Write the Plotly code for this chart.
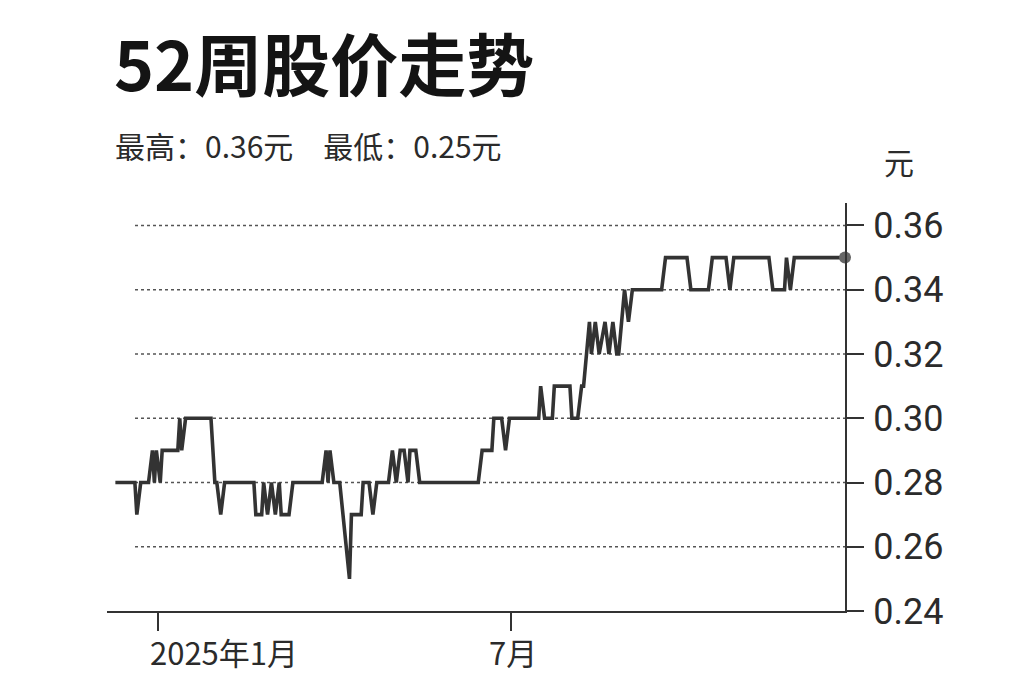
import plotly.graph_objects as go

# ---- data ----
dates = [
    "2024-12-10", "2024-12-20", "2024-12-21", "2024-12-23", "2024-12-27",
    "2024-12-29", "2024-12-30", "2024-12-31", "2025-01-02", "2025-01-03",
    "2025-01-11", "2025-01-12", "2025-01-13", "2025-01-15", "2025-01-28",
    "2025-01-30", "2025-01-31", "2025-02-02", "2025-02-04", "2025-02-19",
    "2025-02-20", "2025-02-23", "2025-02-24", "2025-02-26", "2025-02-28",
    "2025-03-02", "2025-03-04", "2025-03-05", "2025-03-09", "2025-03-11",
    "2025-03-26", "2025-03-28", "2025-03-29", "2025-03-30", "2025-04-01",
    "2025-04-04", "2025-04-09", "2025-04-10", "2025-04-15", "2025-04-16",
    "2025-04-19", "2025-04-21", "2025-04-23", "2025-04-29", "2025-05-01",
    "2025-05-03", "2025-05-05", "2025-05-07", "2025-05-09", "2025-05-10",
    "2025-05-13", "2025-05-15", "2025-06-14", "2025-06-16", "2025-06-21",
    "2025-06-22", "2025-06-26", "2025-06-28", "2025-06-30", "2025-07-15",
    "2025-07-16", "2025-07-18", "2025-07-22", "2025-07-23", "2025-07-31",
    "2025-08-01", "2025-08-04", "2025-08-06", "2025-08-07", "2025-08-10",
    "2025-08-11", "2025-08-13", "2025-08-15", "2025-08-18", "2025-08-20",
    "2025-08-22", "2025-08-24", "2025-08-25", "2025-08-28", "2025-08-30",
    "2025-09-01", "2025-09-16", "2025-09-18", "2025-09-29", "2025-10-01",
    "2025-10-10", "2025-10-12", "2025-10-19", "2025-10-21", "2025-10-23",
    "2025-11-10", "2025-11-12", "2025-11-18", "2025-11-19", "2025-11-21",
    "2025-11-23", "2025-12-19",
]
prices = [
    0.28, 0.28, 0.27, 0.28, 0.28,
    0.29, 0.28, 0.29, 0.28, 0.29,
    0.29, 0.30, 0.29, 0.30, 0.30,
    0.28, 0.28, 0.27, 0.28, 0.28,
    0.27, 0.27, 0.28, 0.27, 0.28,
    0.27, 0.28, 0.27, 0.27, 0.28,
    0.28, 0.29, 0.28, 0.29, 0.28,
    0.28, 0.25, 0.27, 0.27, 0.28,
    0.28, 0.27, 0.28, 0.28, 0.29,
    0.28, 0.29, 0.29, 0.28, 0.29,
    0.29, 0.28, 0.28, 0.29, 0.29,
    0.30, 0.30, 0.29, 0.30, 0.30,
    0.31, 0.30, 0.30, 0.31, 0.31,
    0.30, 0.30, 0.31, 0.31, 0.33,
    0.32, 0.33, 0.32, 0.33, 0.32,
    0.33, 0.32, 0.32, 0.34, 0.33,
    0.34, 0.34, 0.35, 0.35, 0.34,
    0.34, 0.35, 0.35, 0.34, 0.35,
    0.35, 0.34, 0.34, 0.35, 0.34,
    0.35, 0.35,
]
y_ticks = [0.24, 0.26, 0.28, 0.30, 0.32, 0.34, 0.36]
y_tick_labels = ["0.24", "0.26", "0.28", "0.30", "0.32", "0.34", "0.36"]
x_tick_dates = ["2025-01-01", "2025-07-01"]
x_tick_labels = ["2025年1月", "7月"]
title_text = "52周股价走势"
subtitle_text = "最高：0.36元　最低：0.25元"
unit_text = "元"

# ---- layout geometry (page has an 8px body margin) ----
OFF = 8
W, H = 1023 - OFF, 682 - OFF
L, R, T, B = 107 - OFF, 845 - OFF, 203 - OFF, 611 - OFF
pw, ph = R - L, B - T

def px(xp):
    return (xp - OFF - L) / pw

def py(yp):
    return (B - (yp - OFF)) / ph

CJK = "Noto Sans CJK SC, Noto Sans, sans-serif"
NUM = "Roboto, Liberation Sans, sans-serif"
INK = "#2b2b2b"

fig = go.Figure()

fig.add_trace(go.Scatter(
    x=dates, y=prices, mode="lines",
    line=dict(color="#333333", width=3.6),
    hoverinfo="skip", showlegend=False,
))
fig.add_trace(go.Scatter(
    x=dates[-1:], y=prices[-1:], mode="markers",
    marker=dict(color="#666666", size=12),
    cliponaxis=False, hoverinfo="skip", showlegend=False,
))

# dotted grid lines (start a little right of the plot's left edge)
for v in y_ticks[1:]:
    fig.add_shape(type="line", xref="paper", yref="y",
                  x0=px(135), x1=1, y0=v, y1=v,
                  line=dict(color="#555555", width=1.6, dash="dot"),
                  layer="below")

annotations = [
    dict(text="<b>" + title_text + "</b>", x=px(112), y=py(62),
         xanchor="left", yanchor="middle",
         font=dict(family=CJK, size=68, color="#141414")),
    dict(text=subtitle_text, x=px(113), y=py(145),
         xanchor="left", yanchor="middle",
         font=dict(family=CJK, size=30, color=INK)),
    dict(text=unit_text, x=px(899), y=py(161),
         xanchor="center", yanchor="middle",
         font=dict(family=CJK, size=30, color=INK)),
]
# x tick labels
annotations.append(dict(text=x_tick_labels[0], x=x_tick_dates[0], xref="x",
                        y=py(651), xanchor="left", yanchor="middle", xshift=-10,
                        font=dict(family=CJK, size=31, color=INK)))
annotations.append(dict(text=x_tick_labels[1], x=x_tick_dates[1], xref="x",
                        y=py(651), xanchor="center", yanchor="middle", xshift=2,
                        font=dict(family=CJK, size=31, color=INK)))
for a in annotations:
    a.setdefault("xref", "paper")
    a["yref"] = "paper"
    a["showarrow"] = False

fig.update_layout(
    width=W, height=H,
    margin=dict(l=L, r=W - R, t=T, b=H - B, pad=0),
    paper_bgcolor="white", plot_bgcolor="white",
    annotations=annotations,
    xaxis=dict(
        type="date",
        range=["2024-12-05 17:00", "2025-12-19"],
        showgrid=False, zeroline=False,
        showline=True, linecolor="#333333", linewidth=2,
        tickvals=x_tick_dates, ticktext=["", ""], showticklabels=False,
        ticks="outside", ticklen=18, tickwidth=2, tickcolor="#333333",
    ),
    yaxis=dict(
        side="right", range=[0.24, 0.367],
        showgrid=False, zeroline=False,
        showline=True, linecolor="#333333", linewidth=2,
        tickvals=y_ticks, ticktext=y_tick_labels,
        ticks="outside", ticklen=17, tickwidth=2, tickcolor="#333333",
        ticklabelstandoff=2,
        tickfont=dict(family=NUM, size=36, color=INK),
    ),
)

fig.write_html("out.html")
